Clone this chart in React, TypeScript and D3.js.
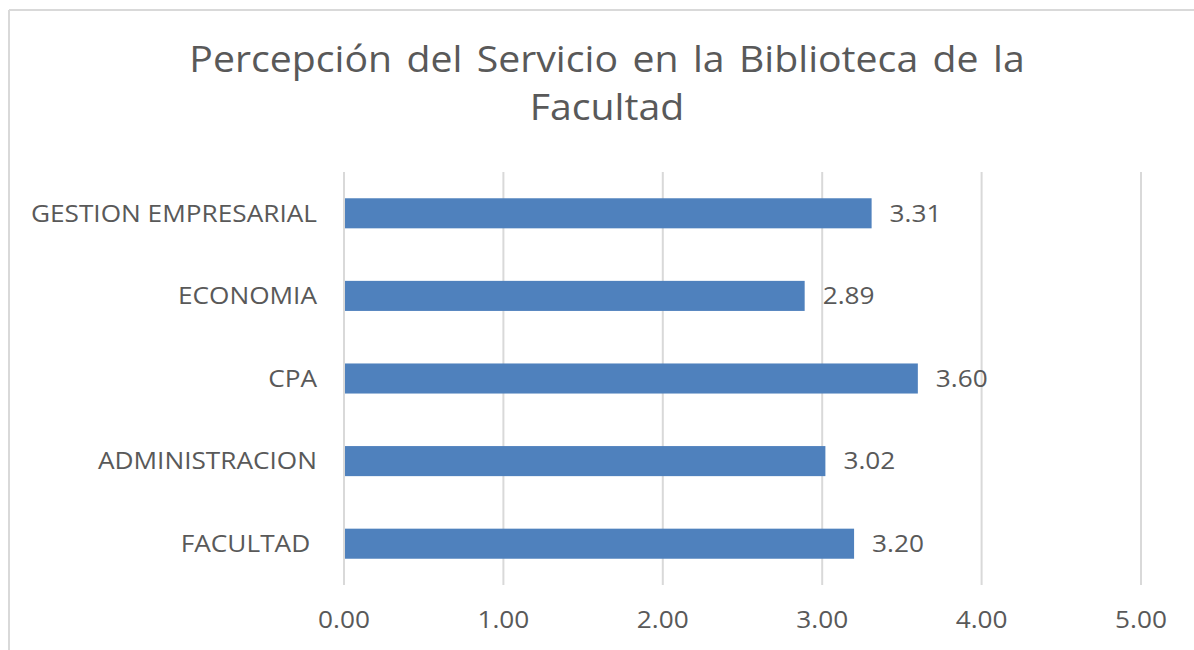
import React from "react";
import * as d3 from "d3";

const categories = ["GESTION EMPRESARIAL", "ECONOMIA", "CPA", "ADMINISTRACION", "FACULTAD "];
const values = [3.31, 2.89, 3.6, 3.02, 3.2];
const ticks = [0, 1, 2, 3, 4, 5];
const titleLines = ["Percepción del Servicio en la Biblioteca de la", "Facultad"];

const W = 1194;
const H = 650;
const FONT = "'Open Sans', sans-serif";
const TEXT = "#595959";

// texto estirado en horizontal, como el original
const Txt: React.FC<{
  x: number;
  y: number;
  sx: number;
  size: number;
  anchor?: "start" | "middle" | "end";
  dy?: string;
  wordSpacing?: number;
  children: React.ReactNode;
}> = ({ x, y, sx, size, anchor = "start", dy, wordSpacing, children }) => (
  <g transform={`translate(${x},${y}) scale(${sx},1)`}>
    <text
      textAnchor={anchor}
      dy={dy}
      fontFamily={FONT}
      fontSize={size}
      fill={TEXT}
      wordSpacing={wordSpacing}
      style={{ whiteSpace: "pre" }}
    >
      {children}
    </text>
  </g>
);

const App: React.FC = () => {
  const margin = { left: 344, right: 53, top: 172, bottom: 65 };

  const x = d3.scaleLinear().domain([0, 5]).range([margin.left, W - margin.right]);
  const y = d3
    .scaleBand<string>()
    .domain(categories)
    .range([margin.top, H - margin.bottom])
    .paddingInner(0.636)
    .paddingOuter(0.318);

  return (
    <svg
      width={W}
      height={H}
      style={{ position: "absolute", left: 0, top: 0, background: "#fff" }}
    >
      {/* marco (solo arriba e izquierda visibles) */}
      <line x1={9} y1={10} x2={W} y2={10} stroke="#d9d9d9" strokeWidth={2} />
      <line x1={9} y1={10} x2={9} y2={H} stroke="#d9d9d9" strokeWidth={2} />

      {/* título */}
      {titleLines.map((t, i) => (
        <Txt key={i} x={607} y={72 + i * 48} sx={1.06} size={37} anchor="middle" wordSpacing={4}>
          {t}
        </Txt>
      ))}

      {/* líneas de cuadrícula */}
      {ticks.map(t => (
        <line
          key={t}
          x1={x(t)}
          x2={x(t)}
          y1={margin.top}
          y2={H - margin.bottom}
          stroke="#d9d9d9"
          strokeWidth={2}
        />
      ))}

      {/* barras */}
      {categories.map((c, i) => (
        <rect
          key={c}
          x={x(0) + 1}
          y={y(c)!}
          width={x(values[i]) - x(0) - 1}
          height={y.bandwidth()}
          fill="#4f81bd"
        />
      ))}

      {/* etiquetas de valores */}
      {categories.map((c, i) => (
        <Txt key={c} x={x(values[i]) + 18} y={y(c)! + y.bandwidth() / 2} dy="0.36em" sx={1.14} size={23}>
          {values[i].toFixed(2)}
        </Txt>
      ))}

      {/* etiquetas de categorías */}
      {categories.map(c => (
        <Txt key={c} x={317} y={y(c)! + y.bandwidth() / 2} dy="0.36em" sx={1.14} size={23} anchor="end">
          {c}
        </Txt>
      ))}

      {/* etiquetas del eje x */}
      {ticks.map(t => (
        <Txt key={t} x={x(t)} y={620} dy="0.36em" sx={1.14} size={23} anchor="middle">
          {t.toFixed(2)}
        </Txt>
      ))}
    </svg>
  );
};

export default App;
